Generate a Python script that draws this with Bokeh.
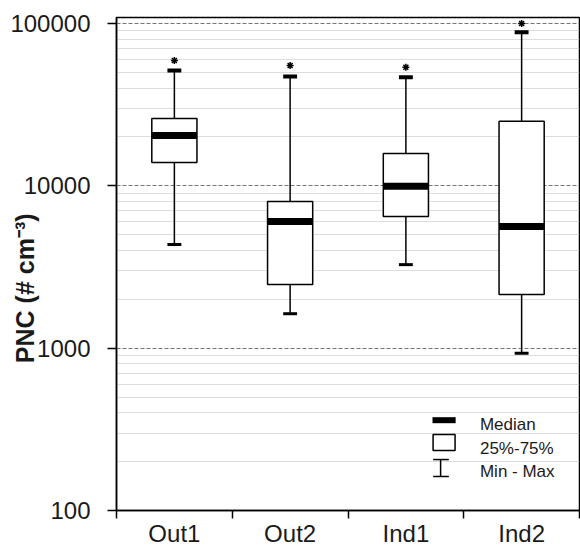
from bokeh.plotting import figure
from bokeh.models import Range1d, FixedTicker
from bokeh.embed import file_html
from bokeh.resources import INLINE
from bokeh.core.properties import value

# ---- data ----
categories = ["Out1", "Out2", "Ind1", "Ind2"]
mins = [4350, 1630, 3270, 930]
q1 = [13900, 2470, 6470, 2140]
medians = [20400, 6030, 9950, 5610]
q3 = [26000, 8000, 15800, 25000]
maxs = [51300, 47100, 46700, 88400]
extremes = [59200, 55100, 53800, 100000]

y_ticks = [100, 1000, 10000, 100000]
y_tick_labels = ["100", "1000", "10000", "100000"]
legend_labels = ["Median", "25%-75%", "Min - Max"]
y_label = "PNC (# cm\u207b\u00b3)"

FONT = "Liberation Sans"
TXT = "#1a1a1a"

x = [i + 0.5 for i in range(len(categories))]

p = figure(width=580, height=550, y_axis_type="log",
           x_range=Range1d(0, len(categories)), y_range=Range1d(100, 10 ** 5.037),
           output_backend="svg", toolbar_location=None,
           min_border_left=116, min_border_right=1, min_border_top=17, min_border_bottom=40)

p.outline_line_color = "black"
p.outline_line_width = 1.5
p.background_fill_color = "white"
p.border_fill_color = "white"

# x axis: labels at category centres, tick marks at category boundaries
p.xaxis.ticker = FixedTicker(ticks=x, minor_ticks=list(range(len(categories) + 1)))
p.xaxis.major_label_overrides = {xv: c for xv, c in zip(x, categories)}
p.xaxis.major_tick_line_color = None
p.xaxis.major_tick_out = 0
p.xaxis.major_tick_in = 0
p.xaxis.minor_tick_line_color = "black"
p.xaxis.minor_tick_line_width = 1.5
p.xaxis.minor_tick_out = 8
p.xaxis.minor_tick_in = 0
p.xaxis.major_label_standoff = 1
p.xaxis.axis_line_color = "black"
p.xaxis.axis_line_width = 1.5
p.xaxis.major_label_text_font = FONT
p.xaxis.major_label_text_font_size = "24px"
p.xaxis.major_label_text_color = TXT
p.xgrid.grid_line_color = None

# y axis
minor = [k * 10 ** e for e in range(2, 5) for k in range(2, 10)]
p.yaxis.ticker = FixedTicker(ticks=y_ticks, minor_ticks=minor)
p.yaxis.major_label_overrides = {t: l for t, l in zip(y_ticks, y_tick_labels)}
p.yaxis.major_tick_line_color = "black"
p.yaxis.major_tick_line_width = 1.5
p.yaxis.major_tick_out = 9
p.yaxis.major_tick_in = 0
p.yaxis.minor_tick_line_color = None
p.yaxis.major_label_standoff = 17
p.yaxis.axis_line_color = "black"
p.yaxis.axis_line_width = 1.5
p.yaxis.major_label_text_font = FONT
p.yaxis.major_label_text_font_size = "24px"
p.yaxis.major_label_text_color = TXT
# trailing no-break spaces shift the visual centre of the title downwards
p.yaxis.axis_label = y_label + "\u00a0" * 7
p.yaxis.axis_label_text_font = FONT
p.yaxis.axis_label_text_font_style = "bold"
p.yaxis.axis_label_text_font_size = "25px"
p.yaxis.axis_label_text_color = TXT
p.yaxis.axis_label_standoff = -32

p.ygrid.grid_line_color = "#777777"
p.ygrid.grid_line_dash = "4 2"
p.ygrid.grid_line_width = 1
p.ygrid.minor_grid_line_color = "#bbbbbb"
p.ygrid.minor_grid_line_dash = "1 1"
p.ygrid.minor_grid_line_width = 1

# whiskers
p.segment(x0=x, y0=q3, x1=x, y1=maxs, line_color="black", line_width=1.5)
p.segment(x0=x, y0=q1, x1=x, y1=mins, line_color="black", line_width=1.5)
# caps
p.rect(x=x, y=maxs, width=0.12, height=4, height_units="screen",
       fill_color="black", line_color=None)
p.rect(x=x, y=mins, width=0.12, height=3, height_units="screen",
       fill_color="black", line_color=None)
# boxes
p.vbar(x=x, bottom=q1, top=q3, width=0.39, fill_color="white",
       line_color="black", line_width=1.5)
# medians
p.rect(x=x, y=medians, width=0.39, height=7, height_units="screen",
       fill_color="black", line_color=None)
# extreme markers
p.scatter(x=x, y=extremes, marker="asterisk", size=7, line_color="black", line_width=1.5)

# ---- legend (drawn manually) ----
p.rect(x=[2.83], y=[360], width=0.2, height=6, height_units="screen",
       fill_color="black", line_color=None)
p.quad(left=[2.735], right=[2.925], bottom=[234], top=[294], fill_color="white",
       line_color="black", line_width=1.5)
p.segment(x0=[2.80, 2.735, 2.735], y0=[162, 206, 162], x1=[2.80, 2.871, 2.871],
          y1=[206, 206, 162], line_color="black", line_width=1.5)
p.text(x=[3.14] * 3, y=[338, 240, 174], text=legend_labels, text_baseline="middle",
       text_align="left", text_font=value(FONT), text_font_size="17px", text_color=TXT)

open("out.html", "w").write(file_html(p, INLINE))
